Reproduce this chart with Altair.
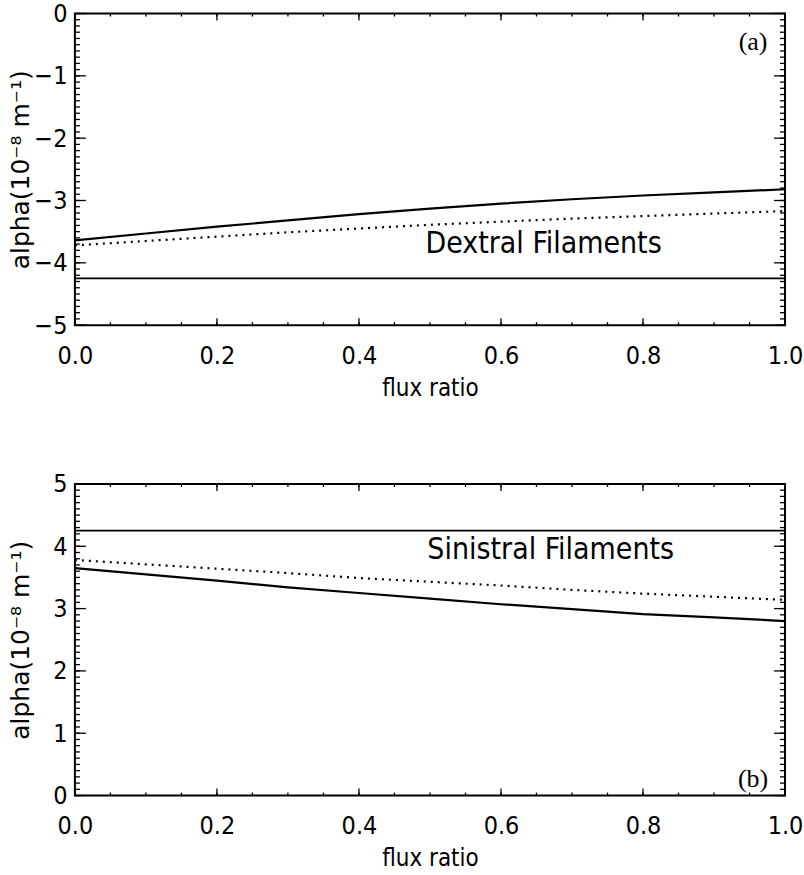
import altair as alt
import pandas as pd

# ---------------- data ----------------
flux = [0.0, 0.1, 0.2, 0.3, 0.4, 0.5, 0.6, 0.7, 0.8, 0.9, 1.0]
dex_solid = [-3.64, -3.53, -3.42, -3.32, -3.22, -3.13, -3.05, -2.98, -2.92, -2.87, -2.82]
dex_dotted = [-3.72, -3.65, -3.58, -3.51, -3.45, -3.39, -3.34, -3.29, -3.25, -3.21, -3.17]
dex_flat = -4.25
sin_solid = [3.65, 3.55, 3.45, 3.34, 3.25, 3.16, 3.07, 2.99, 2.91, 2.86, 2.80]
sin_dotted = [3.78, 3.71, 3.64, 3.57, 3.49, 3.43, 3.37, 3.30, 3.24, 3.19, 3.14]
sin_flat = 4.25

x_major = [0.0, 0.2, 0.4, 0.6, 0.8, 1.0]
x_minor = [round(i * 0.05, 2) for i in range(21)]
top_y_major = [-5, -4, -3, -2, -1, 0]
bot_y_major = [0, 1, 2, 3, 4, 5]

W, H = 711, 312
NARROW = "Liberation Sans Narrow, DejaVu Sans Condensed, DejaVu Sans, sans-serif"
YTITLE = "alpha(10⁻⁸   m⁻¹)"


def panel(solid, dotted, flat, ydom, ymajor, label, lx, ly, tag, tx, ty):
    df = pd.DataFrame({"x": flux, "solid": solid, "dotted": dotted})
    flat_df = pd.DataFrame({"x": [0.0, 1.0], "y": [flat, flat]})
    ymin = pd.DataFrame({"v": [round(ydom[0] + i * 0.1, 2) for i in range(51)]})
    ymaj = pd.DataFrame({"v": ymajor})
    xmin = pd.DataFrame({"v": x_minor})
    xmaj = pd.DataFrame({"v": x_major})

    xs = alt.Scale(domain=[0, 1], nice=False, zero=False)
    ys = alt.Scale(domain=ydom, nice=False, zero=False)

    xaxis = alt.Axis(values=x_major, format=".1f", title="flux ratio", ticks=False,
                     domain=False, grid=False, labelFont=NARROW, labelFontSize=25,
                     labelPadding=18, titleFont=NARROW, titleFontSize=24,
                     titleFontWeight="normal", titlePadding=8, labelColor="black",
                     titleColor="black", labelFlush=False)
    yaxis = alt.Axis(values=ymajor, format="d", title=YTITLE, ticks=False,
                     domain=False, grid=False, labelFont=NARROW, labelFontSize=25,
                     labelPadding=8, titleFont="DejaVu Sans", titleFontSize=25,
                     titleFontWeight="normal", titlePadding=11, labelColor="black",
                     titleColor="black", labelFlush=False, minExtent=30, maxExtent=30)

    base = alt.Chart(df)
    solid_line = base.mark_line(color="black", strokeWidth=2.2).encode(
        x=alt.X("x:Q", scale=xs, axis=xaxis), y=alt.Y("solid:Q", scale=ys, axis=yaxis))
    dotted_line = base.mark_line(color="black", strokeWidth=2.2, strokeDash=[2, 5]).encode(
        x=alt.X("x:Q", scale=xs), y=alt.Y("dotted:Q", scale=ys))
    flat_line = alt.Chart(flat_df).mark_line(color="black", strokeWidth=1.8).encode(
        x=alt.X("x:Q", scale=xs), y=alt.Y("y:Q", scale=ys))

    tick = dict(color="black", strokeWidth=1.3)
    l_maj = alt.Chart(ymaj).mark_rule(**tick).encode(
        y=alt.Y("v:Q", scale=ys), x=alt.value(0), x2=alt.value(11))
    r_maj = alt.Chart(ymaj).mark_rule(**tick).encode(
        y=alt.Y("v:Q", scale=ys), x=alt.value(W), x2=alt.value(W - 11))
    l_min = alt.Chart(ymin).mark_rule(**tick).encode(
        y=alt.Y("v:Q", scale=ys), x=alt.value(0), x2=alt.value(5))
    r_min = alt.Chart(ymin).mark_rule(**tick).encode(
        y=alt.Y("v:Q", scale=ys), x=alt.value(W), x2=alt.value(W - 5))
    b_maj = alt.Chart(xmaj).mark_rule(**tick).encode(
        x=alt.X("v:Q", scale=xs), y=alt.value(H), y2=alt.value(H - 7))
    t_maj = alt.Chart(xmaj).mark_rule(**tick).encode(
        x=alt.X("v:Q", scale=xs), y=alt.value(0), y2=alt.value(7))
    b_min = alt.Chart(xmin).mark_rule(**tick).encode(
        x=alt.X("v:Q", scale=xs), y=alt.value(H), y2=alt.value(H - 3))
    t_min = alt.Chart(xmin).mark_rule(**tick).encode(
        x=alt.X("v:Q", scale=xs), y=alt.value(0), y2=alt.value(3))

    txt_df = pd.DataFrame({"x": [lx], "y": [ly], "t": [label]})
    txt = alt.Chart(txt_df).mark_text(font=NARROW, fontSize=30, align="center",
                                      baseline="alphabetic", color="black").encode(
        x=alt.X("x:Q", scale=xs), y=alt.Y("y:Q", scale=ys), text="t:N")
    tag_df = pd.DataFrame({"x": [tx], "y": [ty], "t": [tag]})
    tagm = alt.Chart(tag_df).mark_text(font="Liberation Serif, DejaVu Serif, serif",
                                       fontSize=26, align="center", baseline="middle",
                                       color="black").encode(
        x=alt.X("x:Q", scale=xs), y=alt.Y("y:Q", scale=ys), text="t:N")

    return alt.layer(solid_line, dotted_line, flat_line, l_maj, r_maj, l_min, r_min,
                     b_maj, t_maj, b_min, t_min, txt, tagm).properties(width=W, height=H)


top = panel(dex_solid, dex_dotted, dex_flat, [-5, 0], top_y_major,
            "Dextral Filaments", 0.66, -3.85, "(a)", 0.955, -0.46)
bottom = panel(sin_solid, sin_dotted, sin_flat, [0, 5], bot_y_major,
               "Sinistral Filaments", 0.67, 3.80, "(b)", 0.955, 0.26)

chart = alt.vconcat(top, bottom, spacing=159, bounds="flush").properties(
    padding={"left": 8, "top": 0, "right": 0, "bottom": 0},
    background="white",
).configure_view(stroke="black", strokeWidth=2)

chart.save("out.html", embed_options={"renderer": "svg", "actions": False})
